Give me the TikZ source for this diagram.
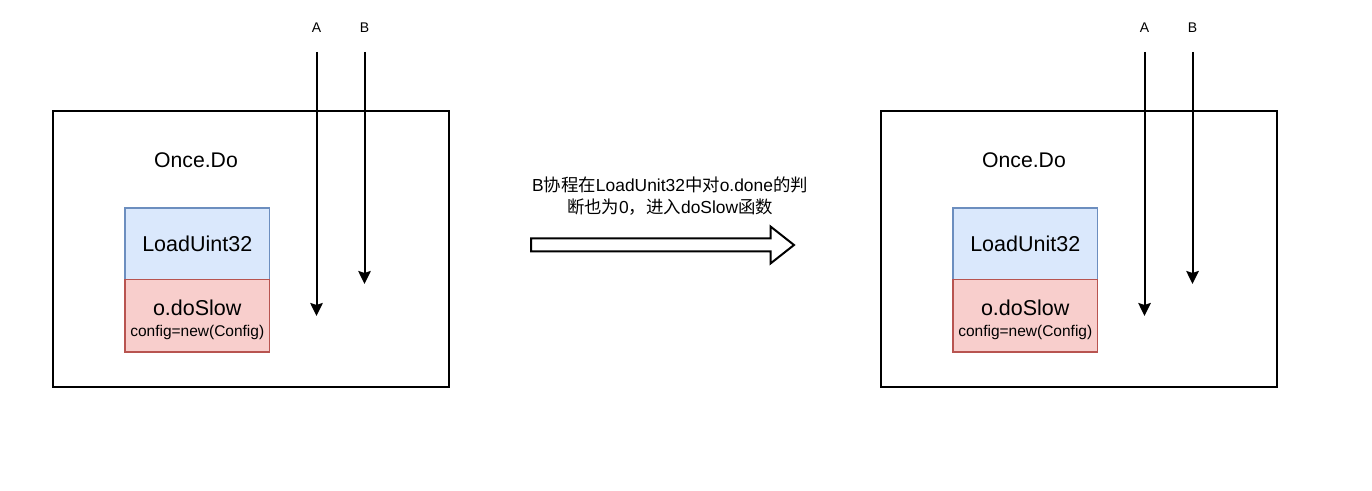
\documentclass[tikz,border=0pt]{standalone}
\usepackage{fontspec}
\setmainfont{Liberation Sans}
\newfontfamily\cjkfont{Noto Sans CJK SC}
\usepackage{xcolor}
\usepackage{tikz}
\usetikzlibrary{arrows.meta,positioning}

\newcommand{\fsz}[1]{\fontsize{#1}{#1}\selectfont}

\begin{document}
\begin{tikzpicture}[x=1pt,y=1pt,
  panel/.style={draw=drawColor,line width=2pt,minimum width=396,minimum height=275.5,inner sep=0pt,outer sep=0pt},
  title/.style={text=drawColor,inner sep=0pt,outer sep=0pt,font=\fsz{21.2}},
  loadbox/.style={draw=blueDraw,fill=blueFill,line width=1.5pt,minimum width=144.5,minimum height=71.5,inner sep=0pt,outer sep=0pt,font=\fsz{21.5}},
  slowbox/.style={draw=redDraw,fill=redFill,line width=1.5pt,minimum width=144.5,minimum height=72.5,inner sep=0pt,outer sep=0pt},
  slowtext/.style={text=drawColor,anchor=base,inner sep=0pt,outer sep=0pt},
  thread/.style={text=drawColor,inner sep=0pt,outer sep=0pt,font=\fsz{14}},
  flow/.style={draw=drawColor,line width=2pt,-{Stealth[length=13pt,width=12.5pt,inset=2pt]}},
  note/.style={text=drawColor,align=center,inner sep=0pt,outer sep=0pt,font=\fontsize{17.4}{22.5}\selectfont}]
\definecolor{fillColor}{RGB}{255,255,255}
\definecolor{drawColor}{RGB}{0,0,0}
\definecolor{blueDraw}{RGB}{108,142,191}
\definecolor{blueFill}{RGB}{218,232,252}
\definecolor{redDraw}{RGB}{184,84,80}
\definecolor{redFill}{RGB}{248,206,204}
\path[use as bounding box,fill=fillColor] (0,0) rectangle (1372.00,490.00);

% left panel
\node[panel] (onceL) at (251.00,240.75) {};
\node[title] (titleL) at (196.00,330.00) {Once.Do};
\node[loadbox] (loadL) at (197.25,246.25) {LoadUint32};
\node[slowbox,below=0pt of loadL] (slowL) {};
\node[slowtext,font=\fsz{21.5}] (slowNameL) at ([yshift=0.25]slowL.center) {o.doSlow};
\node[slowtext,font=\fsz{15.5}] (slowCodeL) at ([yshift=-20.75]slowL.center) {config=new(Config)};

\node[thread] (thrAL) at (316.50,462.00) {A};
\node[thread] (thrBL) at (364.50,462.00) {B};
\coordinate (topAL) at (316.50,438.00);
\coordinate (endAL) at (316.50,174.00);
\coordinate (topBL) at (364.50,438.00);
\coordinate (endBL) at (364.50,206.00);
\draw[flow] (topAL) -- (endAL);
\draw[flow] (topBL) -- (endBL);

% transition
\node[note] (noteMid) at (670.00,294.00) {B{\cjkfont 协程在}LoadUnit32{\cjkfont 中对}o.done{\cjkfont 的判}\\{\cjkfont 断也为}0{\cjkfont ，进入}doSlow{\cjkfont 函数}};
\path[draw=drawColor,fill=fillColor,line width=2pt,line join=miter] (531.00,238.50) --
	(770.50,238.50) --
	(770.50,226.50) --
	(794.00,245.00) --
	(770.50,263.50) --
	(770.50,251.50) --
	(531.00,251.50) -- cycle;

% right panel
\node[panel] (onceR) at (1079.00,240.75) {};
\node[title] (titleR) at (1024.00,330.00) {Once.Do};
\node[loadbox] (loadR) at (1025.25,246.25) {LoadUnit32};
\node[slowbox,below=0pt of loadR] (slowR) {};
\node[slowtext,font=\fsz{21.5}] (slowNameR) at ([yshift=0.25]slowR.center) {o.doSlow};
\node[slowtext,font=\fsz{15.5}] (slowCodeR) at ([yshift=-20.75]slowR.center) {config=new(Config)};

\node[thread] (thrAR) at (1144.50,462.00) {A};
\node[thread] (thrBR) at (1192.50,462.00) {B};
\coordinate (topAR) at (1144.50,438.00);
\coordinate (endAR) at (1144.50,174.00);
\coordinate (topBR) at (1192.50,438.00);
\coordinate (endBR) at (1192.50,206.00);
\draw[flow] (topAR) -- (endAR);
\draw[flow] (topBR) -- (endBR);
\end{tikzpicture}
\end{document}
